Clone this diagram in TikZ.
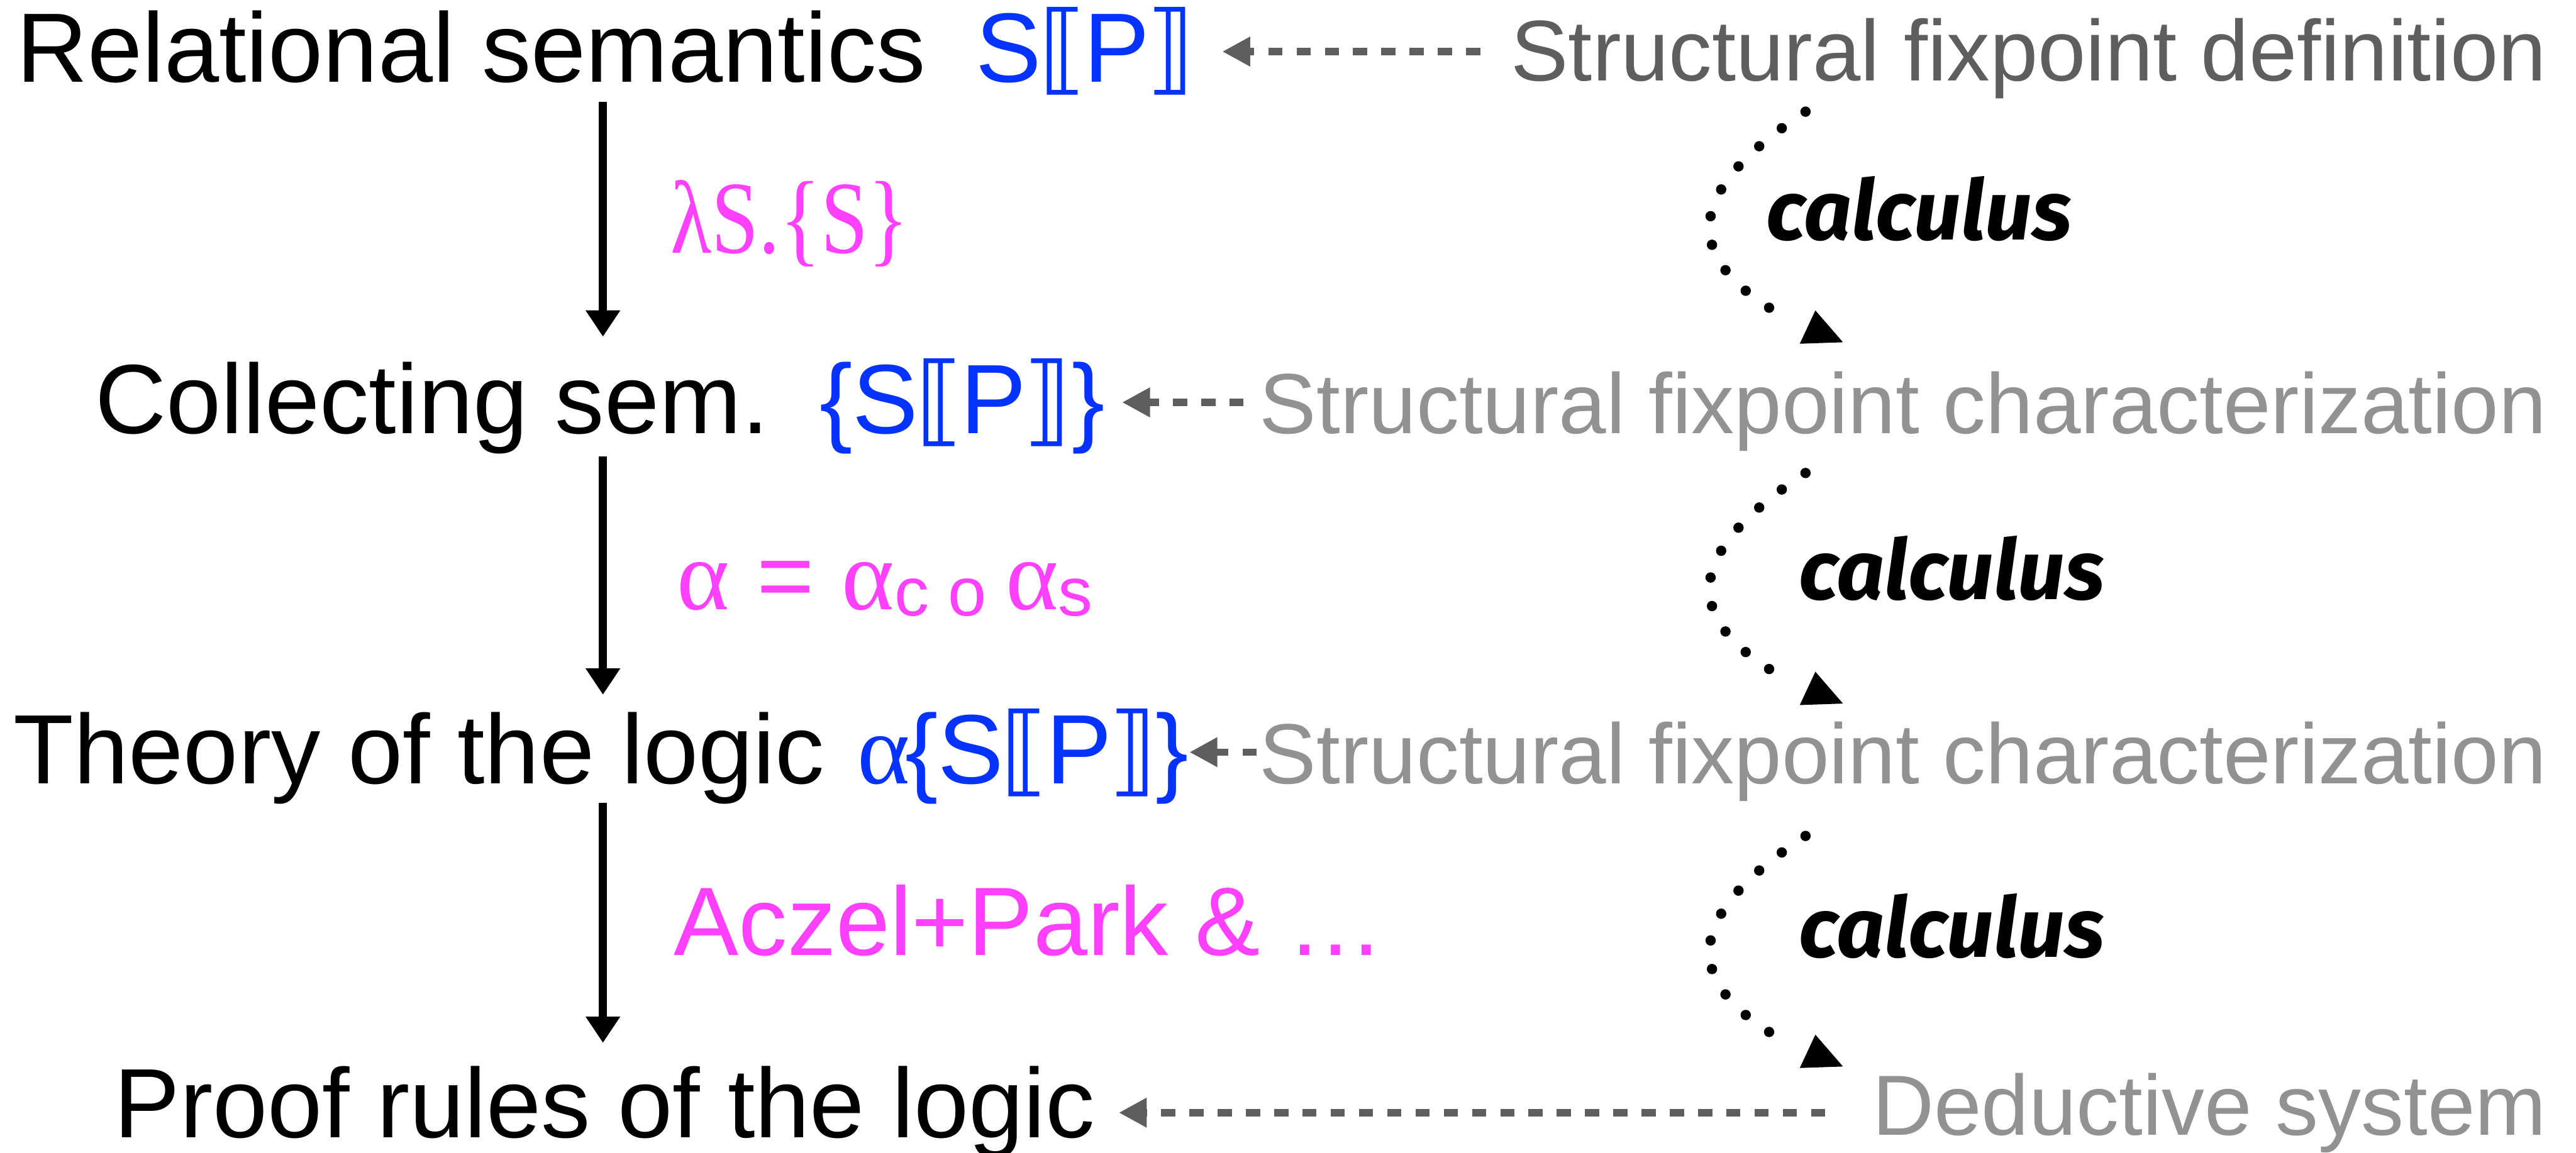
\documentclass[tikz,border=0pt]{standalone}
\usepackage{fontspec}
\usepackage{graphicx}
\setmainfont{Liberation Sans}
\newfontfamily\serifm{Liberation Serif}
\newfontfamily\dejavu{DejaVu Sans}
\newfontfamily\handfont{Fira Sans}
\usetikzlibrary{arrows.meta}
\definecolor{blueT}{HTML}{0433FF}
\definecolor{magT}{HTML}{FF40FF}
\definecolor{dgray}{HTML}{5E5E5E}
\definecolor{lgray}{HTML}{929292}
\newcommand{\bigf}{\fontsize{60}{60}\selectfont}
\newcommand{\grayf}{\fontsize{52}{52}\selectfont}
\newcommand{\subf}{\fontsize{42}{42}\selectfont}
\newcommand{\alphaf}{\serifm\fontsize{61}{61}\selectfont}
\newcommand{\semP}{S\kern-2pt{\dejavu ⟦}\kern-2pt P\kern-2pt{\dejavu ⟧}}
\begin{document}
\begin{tikzpicture}[x=1pt,y=-1pt,
  lbl/.style={inner sep=0pt, outer sep=0pt, font=\bigf},
  gtxt/.style={inner sep=0pt, outer sep=0pt, font=\grayf},
  hand/.style={inner sep=0pt, outer sep=0pt, font=\handfont\bfseries\itshape\fontsize{51}{51}\selectfont},
  dasharrow/.style={draw=dgray, line width=4.5pt, dash pattern=on 8.6pt off 8.6pt,
    -{Triangle[length=17pt,width=17pt]}},
  varrow/.style={draw=black, line width=5pt, -{Triangle[length=16pt,width=20pt]}},
  dotc/.style={draw=black, line width=6.3pt, line cap=round, dash pattern=on 0pt off 17.6pt},
  headtri/.style={fill=black}]
\useasboundingbox (0,0) rectangle (1568,702);

% line 1
\node[lbl, anchor=base west] (rel) at (10,49.9) {Relational semantics};
\node[lbl, anchor=base west, text=blueT] (sp) at (594,49.9) {\semP};
\node[gtxt, anchor=base east, text=dgray, font=\fontsize{52.5}{52.5}\selectfont] (sfd) at (1550,49) {Structural fixpoint definition};
\coordinate (d1s) at (901,31.4);
\coordinate (d1e) at (744,31.4);
\draw[dasharrow] (d1s) -- (d1e);

% line 2
\node[lbl, anchor=base west] (col) at (58,264) {Collecting sem.};
\node[lbl, anchor=base west, text=blueT] (csp) at (499,264) {\{\semP\}};
\node[gtxt, anchor=base east, text=lgray] (sfc1) at (1550,264) {Structural fixpoint characterization};
\coordinate (d2s) at (757,245);
\coordinate (d2e) at (683,245);
\draw[dasharrow] (d2s) -- (d2e);

% line 3
\node[lbl, anchor=base west] (th) at (8.4,477) {Theory of the logic};
\node[lbl, anchor=base west, text=blueT] (asp) at (522,477) {{\alphaf α}\kern-3pt\{\semP\kern-1pt\}};
\node[gtxt, anchor=base east, text=lgray] (sfc2) at (1550,477) {Structural fixpoint characterization};
\coordinate (d3s) at (765,458);
\coordinate (d3e) at (724,458);
\draw[dasharrow] (d3s) -- (d3e);

% line 4
\node[lbl, anchor=base east] (pr) at (666.5,692.5) {Proof rules of the logic};
\node[gtxt, anchor=base east, text=lgray] (ded) at (1550,691) {Deductive system};
\coordinate (d4s) at (1111,677.5);
\coordinate (d4e) at (681,677.5);
\draw[dasharrow] (d4s) -- (d4e);

% vertical arrows
\coordinate (v1s) at (367,62);  \coordinate (v1e) at (367,205);
\coordinate (v2s) at (367,278); \coordinate (v2e) at (367,423);
\coordinate (v3s) at (367,489); \coordinate (v3e) at (367,635);
\draw[varrow] (v1s) -- (v1e);
\draw[varrow] (v2s) -- (v2e);
\draw[varrow] (v3s) -- (v3e);

% magenta labels
\node[inner sep=0pt, anchor=base west, text=magT] (lam) at (408,154)
  {\serifm\fontsize{63}{63}\selectfont\scalebox{0.82}[1]{λS.\{S\}}};
\node[inner sep=0pt, anchor=base west, text=magT, font=\fontsize{60}{60}\selectfont] (alp) at (412,371)
  {{\alphaf α} = {\alphaf α}\raisebox{-4pt}{\subf c o }{\alphaf α}\raisebox{-4pt}{\subf s}};
\node[inner sep=0pt, anchor=base west, text=magT, font=\fontsize{59.2}{59.2}\selectfont] (acz) at (410,581.7) {Aczel+Park \& …};

% calculus labels
\node[hand, anchor=base west] (c1) at (1075,146) {calculus};
\node[hand, anchor=base west] (c2) at (1095,365) {calculus};
\node[hand, anchor=base west] (c3) at (1095,583) {calculus};

% dotted curves
\coordinate (k1s) at (1099,68);  \coordinate (k1a) at (1023,118); \coordinate (k1b) at (1023,158); \coordinate (k1e) at (1088,194);
\coordinate (k2s) at (1099,288); \coordinate (k2a) at (1023,338); \coordinate (k2b) at (1023,378); \coordinate (k2e) at (1088,414);
\coordinate (k3s) at (1099,509); \coordinate (k3a) at (1023,559); \coordinate (k3b) at (1023,599); \coordinate (k3e) at (1088,635);
\draw[dotc] (k1s) .. controls (k1a) and (k1b) .. (k1e);
\draw[dotc] (k2s) .. controls (k2a) and (k2b) .. (k2e);
\draw[dotc] (k3s) .. controls (k3a) and (k3b) .. (k3e);
\fill[headtri] (1105,189) -- (1095.5,209.3) -- (1121.8,208.4) -- cycle;
\fill[headtri] (1105,409) -- (1095.5,429.3) -- (1121.8,428.4) -- cycle;
\fill[headtri] (1105,630) -- (1095.5,650.3) -- (1121.8,649.4) -- cycle;
\end{tikzpicture}
\end{document}
